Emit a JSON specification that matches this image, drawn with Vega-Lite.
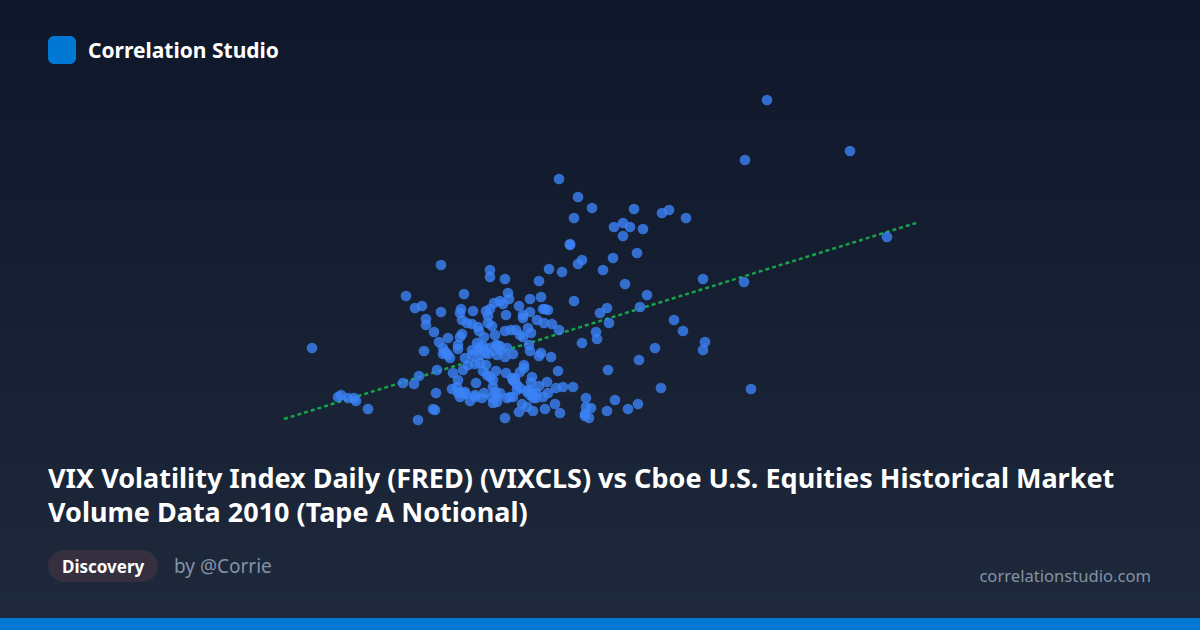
{
  "$schema": "https://vega.github.io/schema/vega-lite/v6.json",
  "width": 1200,
  "height": 630,
  "autosize": {"type": "fit", "contains": "padding"},
  "padding": 0,
  "background": "#111a2e",
  "view": {"stroke": null},
  "datasets": {
    "trend": [
      {"vix": 28.4, "notional": 21.1},
      {"vix": 91.6, "notional": 40.7}
    ],
    "days": [
      {"vix":44.1,"notional":36.5},{"vix":49.0,"notional":36.0},{"vix":49.0,"notional":35.3},{"vix":50.5,"notional":35.1},
      {"vix":54.9,"notional":36.1},{"vix":56.2,"notional":35.8},{"vix":57.0,"notional":38.5},{"vix":57.8,"notional":36.6},{"vix":58.2,"notional":37.0},
      {"vix":53.9,"notional":34.9},{"vix":40.6,"notional":33.4},{"vix":46.4,"notional":33.6},
      {"vix":50.8,"notional":33.7},{"vix":50.9,"notional":33.1},{"vix":50.0,"notional":32.9},{"vix":49.4,"notional":32.7},{"vix":50.3,"notional":32.6},
      {"vix":53.0,"notional":33.1},{"vix":54.1,"notional":33.3},{"vix":57.4,"notional":32.9},
      {"vix":41.5,"notional":32.2},{"vix":42.2,"notional":32.4},{"vix":44.1,"notional":31.8},
      {"vix":46.1,"notional":32.1},{"vix":46.0,"notional":31.7},{"vix":47.3,"notional":31.9},{"vix":48.6,"notional":31.9},{"vix":49.0,"notional":32.1},{"vix":51.9,"notional":32.4},
      {"vix":53.0,"notional":31.8},{"vix":52.3,"notional":31.5},{"vix":52.3,"notional":31.2},{"vix":50.6,"notional":31.5},{"vix":54.3,"notional":32.1},{"vix":54.5,"notional":32.1},{"vix":54.8,"notional":32.0},{"vix":48.8,"notional":31.4},
      {"vix":42.6,"notional":31.1},{"vix":42.6,"notional":30.5},
      {"vix":46.2,"notional":31.0},{"vix":46.7,"notional":30.7},{"vix":47.2,"notional":30.6},{"vix":47.8,"notional":30.3},{"vix":47.9,"notional":29.9},{"vix":48.8,"notional":30.7},{"vix":49.2,"notional":30.4},
      {"vix":53.7,"notional":31.0},{"vix":54.4,"notional":30.7},{"vix":55.2,"notional":30.6},{"vix":55.9,"notional":30.0},
      {"vix":43.4,"notional":29.8},
      {"vix":50.5,"notional":29.9},{"vix":51.1,"notional":30.0},{"vix":51.6,"notional":30.0},{"vix":52.8,"notional":30.2},{"vix":53.1,"notional":29.7},{"vix":52.0,"notional":29.5},{"vix":52.3,"notional":29.3},
      {"vix":49.5,"notional":29.5},{"vix":48.4,"notional":29.3},{"vix":46.2,"notional":29.6},{"vix":46.0,"notional":29.3},{"vix":44.8,"notional":29.2},
      {"vix":43.9,"notional":28.8},{"vix":45.8,"notional":28.5},{"vix":45.8,"notional":28.1},{"vix":47.7,"notional":28.7},{"vix":47.2,"notional":28.0},{"vix":48.0,"notional":28.3},{"vix":48.3,"notional":28.4},
      {"vix":49.6,"notional":28.5},{"vix":50.0,"notional":28.4},{"vix":50.7,"notional":28.2},{"vix":51.3,"notional":27.6},{"vix":50.5,"notional":27.3},{"vix":49.7,"notional":27.5},{"vix":48.8,"notional":27.6},{"vix":48.0,"notional":27.5},{"vix":47.2,"notional":27.5},
      {"vix":52.9,"notional":28.5},{"vix":53.0,"notional":27.9},{"vix":54.1,"notional":27.7},{"vix":53.9,"notional":27.4},{"vix":55.1,"notional":27.3},
      {"vix":42.4,"notional":27.9},
      {"vix":44.3,"notional":28.2},{"vix":44.3,"notional":27.6},{"vix":44.6,"notional":27.7},{"vix":45.0,"notional":27.2},
      {"vix":46.5,"notional":27.2},{"vix":46.3,"notional":26.0},{"vix":46.8,"notional":26.5},{"vix":47.5,"notional":26.6},{"vix":48.0,"notional":26.7},{"vix":48.6,"notional":26.5},
      {"vix":43.7,"notional":26.0},{"vix":45.3,"notional":25.7},
      {"vix":52.4,"notional":26.5},{"vix":52.4,"notional":26.2},{"vix":52.0,"notional":25.8},{"vix":50.6,"notional":25.7},{"vix":49.6,"notional":25.9},{"vix":48.3,"notional":25.9},{"vix":48.7,"notional":25.5},{"vix":49.0,"notional":25.3},{"vix":49.3,"notional":25.0},
      {"vix":55.8,"notional":25.9},
      {"vix":41.9,"notional":25.4},{"vix":40.3,"notional":24.7},{"vix":41.4,"notional":24.6},
      {"vix":45.8,"notional":25.0},{"vix":45.7,"notional":24.3},{"vix":45.2,"notional":24.1},{"vix":47.6,"notional":24.7},
      {"vix":51.2,"notional":25.2},{"vix":51.5,"notional":24.8},{"vix":51.7,"notional":24.5},{"vix":51.3,"notional":25.0},{"vix":53.2,"notional":25.3},{"vix":53.1,"notional":24.8},{"vix":54.7,"notional":24.8},{"vix":53.9,"notional":24.4},{"vix":55.6,"notional":24.2},{"vix":56.3,"notional":24.3},{"vix":57.3,"notional":24.3},
      {"vix":43.6,"notional":23.7},
      {"vix":45.8,"notional":23.7},{"vix":46.0,"notional":23.3},{"vix":46.5,"notional":23.6},{"vix":47.0,"notional":22.9},{"vix":47.5,"notional":23.3},{"vix":48.2,"notional":23.2},{"vix":48.4,"notional":23.7},{"vix":49.3,"notional":24.3},{"vix":49.5,"notional":23.8},{"vix":49.3,"notional":22.7},{"vix":49.7,"notional":22.8},{"vix":50.0,"notional":23.7},{"vix":51.0,"notional":23.3},{"vix":51.3,"notional":23.3},{"vix":51.7,"notional":24.0},
      {"vix":52.8,"notional":24.0},{"vix":53.0,"notional":23.5},{"vix":53.3,"notional":23.2},{"vix":53.6,"notional":23.7},{"vix":54.3,"notional":23.3},{"vix":54.8,"notional":23.7},
      {"vix":52.2,"notional":22.6},{"vix":52.7,"notional":22.3},{"vix":51.9,"notional":21.8},{"vix":53.3,"notional":21.9},{"vix":54.5,"notional":22.1},{"vix":55.5,"notional":22.6},{"vix":56.0,"notional":21.7},
      {"vix":50.5,"notional":21.2},
      {"vix":43.3,"notional":22.1},{"vix":43.5,"notional":22.0},{"vix":41.8,"notional":21.0},
      {"vix":36.8,"notional":22.1},
      {"vix":33.8,"notional":23.3},{"vix":34.1,"notional":23.5},{"vix":34.8,"notional":23.2},{"vix":35.4,"notional":23.2},{"vix":35.6,"notional":22.9},
      {"vix":31.2,"notional":28.2},
      {"vix":76.7,"notional":53.0},{"vix":74.5,"notional":47.0},{"vix":85.0,"notional":47.9},{"vix":88.7,"notional":39.3},
      {"vix":55.9,"notional":45.1},{"vix":57.8,"notional":43.3},{"vix":59.2,"notional":42.2},{"vix":57.4,"notional":41.2},{"vix":63.4,"notional":42.1},{"vix":66.2,"notional":41.7},{"vix":66.9,"notional":42.0},{"vix":68.6,"notional":41.2},
      {"vix":61.4,"notional":40.3},{"vix":62.3,"notional":40.7},{"vix":63.0,"notional":40.3},{"vix":64.3,"notional":40.1},{"vix":62.3,"notional":39.4},{"vix":57.0,"notional":38.6},{"vix":61.3,"notional":37.2},{"vix":63.7,"notional":37.7},
      {"vix":60.3,"notional":36.0},{"vix":62.5,"notional":34.6},{"vix":64.7,"notional":33.5},{"vix":70.3,"notional":35.1},{"vix":74.4,"notional":34.8},
      {"vix":60.7,"notional":32.2},{"vix":60.0,"notional":31.7},{"vix":60.9,"notional":30.7},{"vix":64.0,"notional":32.3},{"vix":67.4,"notional":31.0},{"vix":68.3,"notional":29.9},{"vix":70.5,"notional":28.8},{"vix":70.3,"notional":28.0},
      {"vix":59.6,"notional":29.8},{"vix":59.7,"notional":29.1},{"vix":58.2,"notional":28.7},{"vix":65.5,"notional":28.2},{"vix":63.9,"notional":27.0},{"vix":60.8,"notional":26.0},{"vix":66.1,"notional":24.2},{"vix":75.1,"notional":24.1},
      {"vix":58.6,"notional":23.2},{"vix":61.5,"notional":23.0},{"vix":63.8,"notional":22.6},{"vix":62.8,"notional":22.1},{"vix":60.7,"notional":21.9},{"vix":58.6,"notional":22.3},{"vix":59.1,"notional":22.2},{"vix":58.5,"notional":21.4},{"vix":58.9,"notional":21.2},{"vix":58.5,"notional":21.6},
      {"vix":49.7,"notional":28.5},{"vix":49.0,"notional":28.2},{"vix":50.0,"notional":28.0},{"vix":48.5,"notional":27.8},{"vix":47.8,"notional":28.0},{"vix":44.5,"notional":27.8},{"vix":44.8,"notional":27.5},{"vix":51.3,"notional":25.0},{"vix":51.5,"notional":25.2},{"vix":53.3,"notional":23.5},{"vix":53.0,"notional":24.0},{"vix":52.7,"notional":23.8},{"vix":46.5,"notional":23.8},{"vix":46.0,"notional":23.8},{"vix":49.2,"notional":23.3},{"vix":49.7,"notional":23.3},{"vix":50.7,"notional":23.2},{"vix":47.5,"notional":23.5},{"vix":53.6,"notional":23.2},{"vix":52.0,"notional":24.2}
    ]
  },
  "layer": [
    {
      "data": {"values": [{}]},
      "mark": {
        "type": "rect",
        "fill": {
          "gradient": "linear",
          "x1": 0, "y1": 0, "x2": 0, "y2": 1,
          "stops": [{"offset": 0, "color": "#0f172a"}, {"offset": 1, "color": "#1e293b"}]
        }
      },
      "encoding": {
        "x": {"value": 0}, "x2": {"value": 1200},
        "y": {"value": 0}, "y2": {"value": 630}
      }
    },
    {
      "data": {"name": "trend"},
      "mark": {"type": "line", "color": "#16a34a", "strokeWidth": 2.5, "strokeDash": [4, 3]},
      "encoding": {
        "x": {"field": "vix", "type": "quantitative", "scale": {"domain": [0, 120], "nice": false, "zero": false}, "axis": null},
        "y": {"field": "notional", "type": "quantitative", "scale": {"domain": [0, 63], "nice": false, "zero": false}, "axis": null}
      }
    },
    {
      "data": {"name": "days"},
      "mark": {"type": "circle", "color": "#3b82f6", "opacity": 0.8, "size": 115},
      "encoding": {
        "x": {"field": "vix", "type": "quantitative", "axis": null},
        "y": {"field": "notional", "type": "quantitative", "axis": null}
      }
    },
    {
      "data": {"values": [{}]},
      "mark": {"type": "rect", "color": "#0078d4", "cornerRadius": 6},
      "encoding": {
        "x": {"value": 48}, "x2": {"value": 76},
        "y": {"value": 36}, "y2": {"value": 64}
      }
    },
    {
      "data": {"values": [{}]},
      "mark": {"type": "rect", "color": "#0078d4"},
      "encoding": {
        "x": {"value": 0}, "x2": {"value": 1200},
        "y": {"value": 618}, "y2": {"value": 630}
      }
    },
    {
      "data": {"values": [{}]},
      "mark": {"type": "rect", "color": "#352f3f", "cornerRadius": 16},
      "encoding": {
        "x": {"value": 48}, "x2": {"value": 158},
        "y": {"value": 550}, "y2": {"value": 582}
      }
    },
    {
      "data": {"values": [{}]},
      "mark": {"type": "text", "text": "Correlation Studio", "font": "Noto Sans", "fontWeight": "bold", "fontSize": 21, "color": "#ffffff", "align": "left", "baseline": "alphabetic"},
      "encoding": {"x": {"value": 88}, "y": {"value": 58}}
    },
    {
      "data": {"values": [{}]},
      "mark": {
        "type": "text",
        "text": ["VIX Volatility Index Daily (FRED) (VIXCLS) vs Cboe U.S. Equities Historical Market", "Volume Data 2010 (Tape A Notional)"],
        "font": "Noto Sans", "fontWeight": "bold", "fontSize": 27, "lineHeight": 34, "color": "#ffffff", "align": "left", "baseline": "alphabetic"
      },
      "encoding": {"x": {"value": 48}, "y": {"value": 488}}
    },
    {
      "data": {"values": [{}]},
      "mark": {"type": "text", "text": "Discovery", "font": "Noto Sans", "fontWeight": "bold", "fontSize": 17, "color": "#ffffff", "align": "left", "baseline": "alphabetic"},
      "encoding": {"x": {"value": 62}, "y": {"value": 573}}
    },
    {
      "data": {"values": [{}]},
      "mark": {"type": "text", "text": "by @Corrie", "font": "Noto Sans", "fontSize": 19, "color": "#8492a6", "align": "left", "baseline": "alphabetic"},
      "encoding": {"x": {"value": 174}, "y": {"value": 573}}
    },
    {
      "data": {"values": [{}]},
      "mark": {"type": "text", "text": "correlationstudio.com", "font": "Noto Sans", "fontSize": 16.6, "color": "#8492a6", "align": "right", "baseline": "alphabetic"},
      "encoding": {"x": {"value": 1151}, "y": {"value": 582}}
    }
  ]
}
